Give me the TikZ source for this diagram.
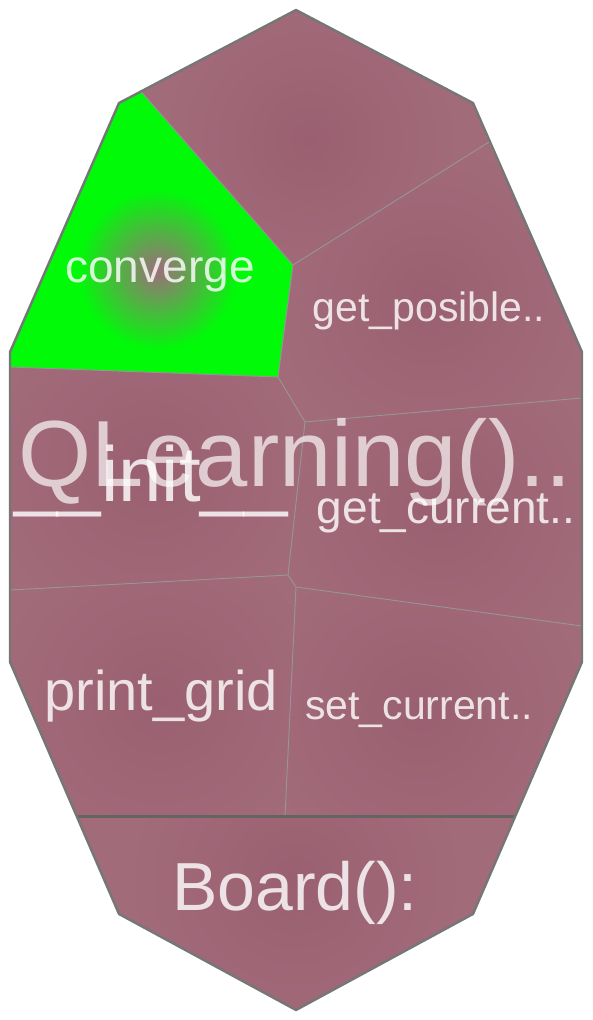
\documentclass[tikz,border=0pt]{standalone}
\usepackage{fontspec}
\setmainfont{Liberation Sans}
\begin{document}
\definecolor{cellbase}{RGB}{162,107,122}
\definecolor{celldark}{RGB}{154,96,113}
\definecolor{leafgreen}{RGB}{0,250,8}
\definecolor{outline}{RGB}{118,118,118}
\definecolor{seam}{RGB}{150,150,150}
\definecolor{divider}{RGB}{100,100,100}
\tikzset{
  outerline/.style={draw=outline, line width=2.4pt, line join=round},
  seamline/.style={draw=seam, line width=0.9pt},
  dividerline/.style={draw=divider, line width=3pt},
  lbl/.style={anchor=base, text=white, text opacity=0.82, inner sep=0pt},
  biglbl/.style={anchor=base, text=white, text opacity=0.68, inner sep=0pt},
}
% a cell: base fill plus a soft radial glow centred on its label
\newcommand{\cellfill}[4]{% #1 polygon, #2 centre, #3 glow radius, #4 outer colour
  \begin{scope}
    \clip #1 -- cycle;
    \fill[#4] #1 -- cycle;
    \shade[inner color=celldark, outer color=#4] #2 circle (#3);
  \end{scope}}
\begin{tikzpicture}[x=1pt,y=-1pt]
  \useasboundingbox (0,0) rectangle (592,1020);

  % outline vertices
  \coordinate (T)  at (296,10);
  \coordinate (UR) at (473,103);
  \coordinate (RU) at (582,352);
  \coordinate (RD) at (582,662);
  \coordinate (LR) at (473,914);
  \coordinate (B)  at (296,1010);
  \coordinate (LL) at (119,914);
  \coordinate (LD) at (10,662);
  \coordinate (LU) at (10,352);
  \coordinate (UL) at (119,103);

  % inner junctions
  \coordinate (g1) at (141,91.4);
  \coordinate (j1) at (293,265);
  \coordinate (r1) at (489,142);
  \coordinate (j2) at (278,377);
  \coordinate (l1) at (10,367);
  \coordinate (j3) at (305,422);
  \coordinate (r2) at (582,398);
  \coordinate (j4) at (288,575);
  \coordinate (l2) at (10,590);
  \coordinate (j5) at (296,587);
  \coordinate (r3) at (582,626);
  \coordinate (m1) at (285,816);
  \coordinate (bl) at (76.6,816);
  \coordinate (br) at (515.4,816);

  % cells
  \begin{scope}
    \clip (UL) -- (g1) -- (j1) -- (j2) -- (l1) -- (LU) -- cycle;
    \fill[leafgreen] (UL) -- (g1) -- (j1) -- (j2) -- (l1) -- (LU) -- cycle;
    \shade[inner color=cellbase!85!gray, outer color=leafgreen] (158,270) circle (80pt);
  \end{scope}
  \cellfill{(g1) -- (T) -- (UR) -- (r1) -- (j1)}{(310,140)}{150pt}{cellbase}
  \cellfill{(j1) -- (r1) -- (RU) -- (r2) -- (j3) -- (j2)}{(430,300)}{160pt}{cellbase}
  \cellfill{(l1) -- (j2) -- (j3) -- (j4) -- (l2)}{(150,470)}{170pt}{cellbase}
  \cellfill{(j3) -- (r2) -- (r3) -- (j5) -- (j4)}{(440,510)}{170pt}{cellbase}
  \cellfill{(l2) -- (j4) -- (j5) -- (m1) -- (bl) -- (LD)}{(160,700)}{170pt}{cellbase}
  \cellfill{(j5) -- (r3) -- (RD) -- (br) -- (m1)}{(420,710)}{170pt}{cellbase}
  \cellfill{(bl) -- (br) -- (LR) -- (B) -- (LL)}{(295,880)}{170pt}{cellbase}

  % seams between cells
  \draw[seamline] (g1) -- (j1) -- (j2);
  \draw[seamline] (j1) -- (r1);
  \draw[seamline] (l1) -- (j2) -- (j3) -- (r2);
  \draw[seamline] (j3) -- (j4) -- (j5) -- (r3);
  \draw[seamline] (l2) -- (j4);
  \draw[seamline] (j5) -- (m1);

  % boundary between the two classes and the outline
  \draw[dividerline] (bl) -- (br);
  \draw[outerline] (T) -- (UR) -- (RU) -- (RD) -- (LR) -- (B) -- (LL) -- (LD) -- (LU) -- (UL) -- cycle;

  % labels
  \node[lbl, font=\fontsize{46}{46}\selectfont] (conv) at (160,282) {converge};
  \node[lbl, font=\fontsize{41}{41}\selectfont] (gpos) at (429,321) {get\_posible..};
  \node[lbl, font=\fontsize{46}{46}\selectfont] (gcur) at (446,523) {get\_current..};
  \node[lbl, font=\fontsize{56}{56}\selectfont] (pgrid) at (161,710) {print\_grid};
  \node[lbl, font=\fontsize{41}{41}\selectfont] (scur) at (419,719) {set\_current..};
  \node[lbl, font=\fontsize{78}{78}\selectfont] (init) at (151,501) {\_\_init\_\_};
  \node[biglbl, font=\fontsize{94}{94}\selectfont] (ql) at (295,486) {QLearning()..};
  \node[lbl, font=\fontsize{68}{68}\selectfont] (board) at (295,910) {Board():};
\end{tikzpicture}
\end{document}
